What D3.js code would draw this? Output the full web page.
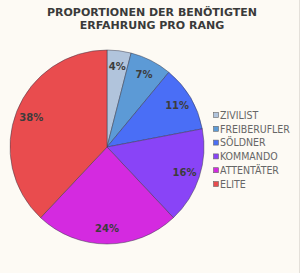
<!DOCTYPE html>
<html>
<head>
<meta charset="utf-8">
<script src="https://cdn.jsdelivr.net/npm/d3@7"></script>
<style>
  body { margin: 0; background: #fdfaf4; }
  #container { width: 300px; height: 273px; }
</style>
</head>
<body>
<div id="container"></div>
<script>
const ranks = ["ZIVILIST", "FREIBERUFLER", "SÖLDNER", "KOMMANDO", "ATTENTÄTER", "ELITE"];
const shares = [4, 7, 11, 16, 24, 38];
const colors = ["#b1c4dc", "#5c9ad6", "#4a6ef6", "#8944f7", "#d42ae0", "#e94c4e"];
const titleLines = ["PROPORTIONEN DER BENÖTIGTEN", "ERFAHRUNG PRO RANG"];

const width = 300, height = 273;
const cx = 107, cy = 147, r = 97;

const svg = d3.select("#container").append("svg")
    .attr("width", width)
    .attr("height", height);

svg.append("rect")
    .attr("width", width).attr("height", height)
    .attr("fill", "#fdfaf4");
svg.append("line")
    .attr("x1", width - 0.5).attr("x2", width - 0.5)
    .attr("y1", 0).attr("y2", height)
    .attr("stroke", "#e4e0da");

svg.append("g")
    .attr("font-family", "DejaVu Sans")
    .attr("font-weight", "bold")
    .attr("font-size", 11)
    .attr("fill", "#3a3a3a")
    .attr("text-anchor", "middle")
  .selectAll("text")
  .data(titleLines)
  .join("text")
    .attr("x", 152)
    .attr("y", (d, i) => 16 + i * 13)
    .text(d => d);

const color = d3.scaleOrdinal().domain(ranks).range(colors);
const pie = d3.pie().sort(null).value(d => d.v);
const arcs = pie(ranks.map((k, i) => ({k, v: shares[i]})));
const arc = d3.arc().innerRadius(0).outerRadius(r);
const labelArc = d3.arc().innerRadius(r * 0.84).outerRadius(r * 0.84);

const g = svg.append("g").attr("transform", `translate(${cx},${cy})`);

g.selectAll("path")
  .data(arcs)
  .join("path")
    .attr("d", arc)
    .attr("fill", d => color(d.data.k))
    .attr("stroke", "#3a3a4a")
    .attr("stroke-opacity", 0.7)
    .attr("stroke-width", 0.7);

g.selectAll("text")
  .data(arcs)
  .join("text")
    .attr("transform", d => `translate(${labelArc.centroid(d)})`)
    .attr("text-anchor", "middle")
    .attr("dy", "0.35em")
    .attr("font-family", "DejaVu Sans")
    .attr("font-weight", "bold")
    .attr("font-size", 10)
    .attr("fill", "#3c3c3c")
    .text(d => d.data.v + "%");

// legend on the right
const legend = svg.append("g")
    .attr("transform", "translate(213,115)")
  .selectAll("g")
  .data(ranks)
  .join("g")
    .attr("transform", (d, i) => `translate(0,${i * 13.8})`);

legend.append("rect")
    .attr("x", 0.5).attr("y", -2.5)
    .attr("width", 5).attr("height", 5)
    .attr("fill", d => color(d))
    .attr("stroke", "#666")
    .attr("stroke-width", 0.6);

legend.append("text")
    .attr("x", 7)
    .attr("dy", "0.36em")
    .attr("font-family", "DejaVu Sans Condensed")
    .attr("font-stretch", "condensed")
    .attr("font-size", 10.5)
    .attr("fill", "#666")
    .text(d => d);
</script>
</body>
</html>
